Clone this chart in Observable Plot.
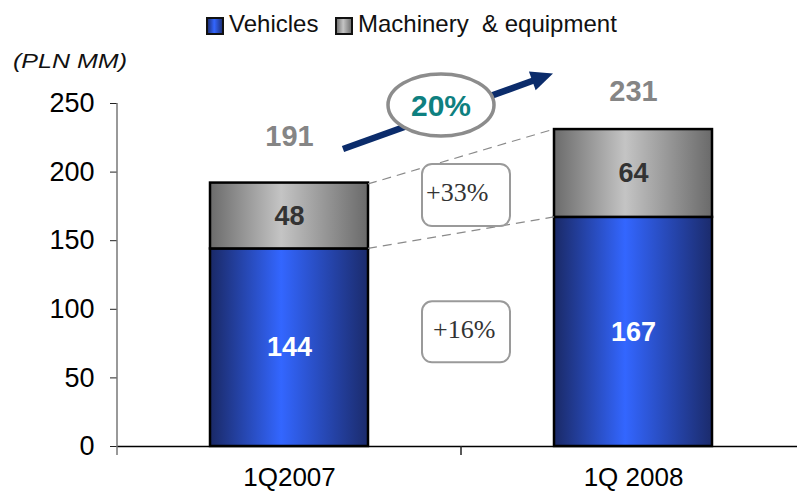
<!DOCTYPE html>
<html>
<head>
<meta charset="utf-8">
<script src="https://cdn.jsdelivr.net/npm/d3@7"></script>
<script src="https://cdn.jsdelivr.net/npm/@observablehq/plot@0.6"></script>
<style>
  html, body { margin: 0; padding: 0; background: #fff; }
  #chart { position: relative; width: 797px; height: 491px; overflow: hidden; }
</style>
</head>
<body>
<div id="chart"></div>
<script>
// ---- data ----
const categories = ["1Q2007", "1Q 2008"];
const vehicles = [144, 167];
const machinery = [48, 64];
const totals = [191, 231];
const seriesNames = ["Vehicles", "Machinery  & equipment"];
const growthLabels = ["+33%", "+16%"];
const overallGrowth = "20%";
const yTicks = [0, 50, 100, 150, 200, 250];
const unitLabel = "(PLN MM)";

// ---- derived tables ----
const vehRows = categories.map((c, i) => ({cat: c, y1: 0, y2: vehicles[i], value: vehicles[i], mid: vehicles[i] / 2}));
const macRows = categories.map((c, i) => ({cat: c, y1: vehicles[i], y2: vehicles[i] + machinery[i], value: machinery[i], mid: vehicles[i] + machinery[i] / 2}));
const totRows = categories.map((c, i) => ({cat: c, value: totals[i]}));

const FONT = "'Liberation Sans', Arial, Helvetica, sans-serif";
const INSET = 93;

const plot = Plot.plot({
  width: 797,
  height: 491,
  marginLeft: 117,
  marginRight: 0,
  marginTop: 103,
  marginBottom: 45,
  style: {fontFamily: FONT, background: "white", overflow: "visible", color: "black"},
  x: {domain: categories, range: [117, 805], padding: 0, label: null},
  y: {domain: [0, 250], label: null},
  marks: [
    Plot.axisY({ticks: yTicks, tickSize: 7, tickPadding: 16, fontSize: 27, label: null, stroke: "#222"}),
    Plot.axisX({tickSize: 0, tickPadding: 21, fontSize: 26, label: null}),
    Plot.barY(vehRows, {x: "cat", y1: "y1", y2: "y2", fill: "url(#gBlue)", stroke: "black", strokeWidth: 2.5, insetLeft: INSET, insetRight: INSET}),
    Plot.barY(macRows, {x: "cat", y1: "y1", y2: "y2", fill: "url(#gGray)", stroke: "black", strokeWidth: 2.5, insetLeft: INSET, insetRight: INSET}),
    Plot.ruleY([0], {stroke: "black", strokeWidth: 1.5}),
    Plot.text(vehRows, {x: "cat", y: "mid", text: d => String(d.value), fill: "white", fontWeight: "bold", fontSize: 27}),
    Plot.text(macRows, {x: "cat", y: "mid", text: d => String(d.value), fill: "#333", fontWeight: "bold", fontSize: 27}),
    Plot.text(totRows.slice(0, 1), {x: "cat", y: "value", text: d => String(d.value), fill: "#858585", fontWeight: "bold", fontSize: 29, dy: -48}),
    Plot.text(totRows.slice(1), {x: "cat", y: "value", text: d => String(d.value), fill: "#858585", fontWeight: "bold", fontSize: 29, dy: -38})
  ]
});

document.getElementById("chart").appendChild(plot);

const svg = d3.select(plot);
const xs = plot.scale("x");
const ys = plot.scale("y");
const X = v => xs.apply(v);
const Y = v => ys.apply(v);
const bw = xs.bandwidth;

// gradients
const defs = svg.insert("defs", ":first-child");
function grad(id, edgeL, mid, edgeR) {
  const g = defs.append("linearGradient").attr("id", id).attr("x1", 0).attr("x2", 1).attr("y1", 0).attr("y2", 0);
  g.append("stop").attr("offset", "0%").attr("stop-color", edgeL);
  g.append("stop").attr("offset", "45%").attr("stop-color", mid);
  g.append("stop").attr("offset", "100%").attr("stop-color", edgeR);
}
grad("gBlue", "#1a2966", "#3366ff", "#1b2b6c");
grad("gGray", "#6b6b6b", "#c4c4c4", "#6a6a6a");

const ann = svg.append("g").attr("font-family", FONT).attr("text-anchor", "start");

// y-axis line and category separators
const yAxisX = X(categories[0]);
ann.append("line").attr("x1", yAxisX).attr("x2", yAxisX).attr("y1", Y(250)).attr("y2", Y(0) + 9)
  .attr("stroke", "#777").attr("stroke-width", 1.5);
const sepX = X(categories[1]);
ann.append("line").attr("x1", sepX).attr("x2", sepX).attr("y1", Y(0)).attr("y2", Y(0) + 9)
  .attr("stroke", "#222").attr("stroke-width", 1.5);

// dashed connectors
const b1Right = X(categories[0]) + bw - INSET;
const b2Left = X(categories[1]) + INSET;
[[totals[0], totals[1]], [vehicles[0], vehicles[1]]].forEach(([a, b]) => {
  ann.append("line").attr("x1", b1Right).attr("y1", Y(a)).attr("x2", b2Left).attr("y2", Y(b))
    .attr("stroke", "#8a8a8a").attr("stroke-width", 1.2).attr("stroke-dasharray", "9,6");
});

// growth boxes
const boxes = [
  {label: growthLabels[0], y1: 160.3, y2: 205.6, tx: -35, ty: 201},
  {label: growthLabels[1], y1: 61, y2: 105.5, tx: -28, ty: 338}
];
boxes.forEach(bx => {
  const left = sepX - 39, right = sepX + 49;
  ann.append("rect").attr("x", left).attr("y", Y(bx.y2)).attr("width", right - left).attr("height", Y(bx.y1) - Y(bx.y2))
    .attr("rx", 10).attr("fill", "white").attr("stroke", "#9a9a9a").attr("stroke-width", 2);
  ann.append("text").attr("x", sepX + bx.tx).attr("y", bx.ty).attr("text-anchor", "start")
    .attr("font-family", "'Liberation Serif', 'Times New Roman', serif").attr("font-size", 26).attr("fill", "#333")
    .text(bx.label);
});

// growth arrow
const tail = [b1Right - 25, Y(216.5)];
const tip = [b2Left - 1, Y(271.5)];
const dx = tip[0] - tail[0], dy = tip[1] - tail[1];
const L = Math.hypot(dx, dy), ux = dx / L, uy = dy / L;
const headLen = 22, headW = 10;
const base = [tip[0] - ux * headLen, tip[1] - uy * headLen];
ann.append("line").attr("x1", tail[0]).attr("y1", tail[1]).attr("x2", base[0] + ux * 2).attr("y2", base[1] + uy * 2)
  .attr("stroke", "#0b2c6b").attr("stroke-width", 6.5);
ann.append("polygon").attr("points", [
  tip,
  [base[0] - uy * headW, base[1] + ux * headW],
  [base[0] + uy * headW, base[1] - ux * headW]
].map(p => p.join(",")).join(" ")).attr("fill", "#0b2c6b");

// ellipse with overall growth
const ecx = sepX - 20, ecy = Y(250) + 2;
ann.append("ellipse").attr("cx", ecx).attr("cy", ecy).attr("rx", 53).attr("ry", 31)
  .attr("fill", "white").attr("stroke", "#8c8c8c").attr("stroke-width", 3.5);
ann.append("text").attr("x", ecx).attr("y", ecy).attr("dy", "0.36em").attr("text-anchor", "middle")
  .attr("font-size", 30).attr("font-weight", "bold").attr("fill", "#0e8080").text(overallGrowth);

// unit label
ann.append("text").attr("x", 13).attr("y", 68).attr("text-anchor", "start").attr("font-size", 21).attr("font-style", "italic")
  .attr("textLength", 114).attr("lengthAdjust", "spacingAndGlyphs").attr("fill", "#111").text(unitLabel);

// legend
const leg = ann.append("g");
const legItems = [
  {name: seriesNames[0], grad: "url(#gBlue)", x: 207},
  {name: seriesNames[1], grad: "url(#gGray)", x: 336}
];
legItems.forEach(it => {
  leg.append("rect").attr("x", it.x).attr("y", 18).attr("width", 16).attr("height", 16)
    .attr("fill", it.grad).attr("stroke", "#111").attr("stroke-width", 2);
  leg.append("text").attr("x", it.x + 22).attr("y", 32).attr("text-anchor", "start").attr("font-size", 24).attr("fill", "#111")
    .style("white-space", "pre").text(it.name);
});
</script>
</body>
</html>
